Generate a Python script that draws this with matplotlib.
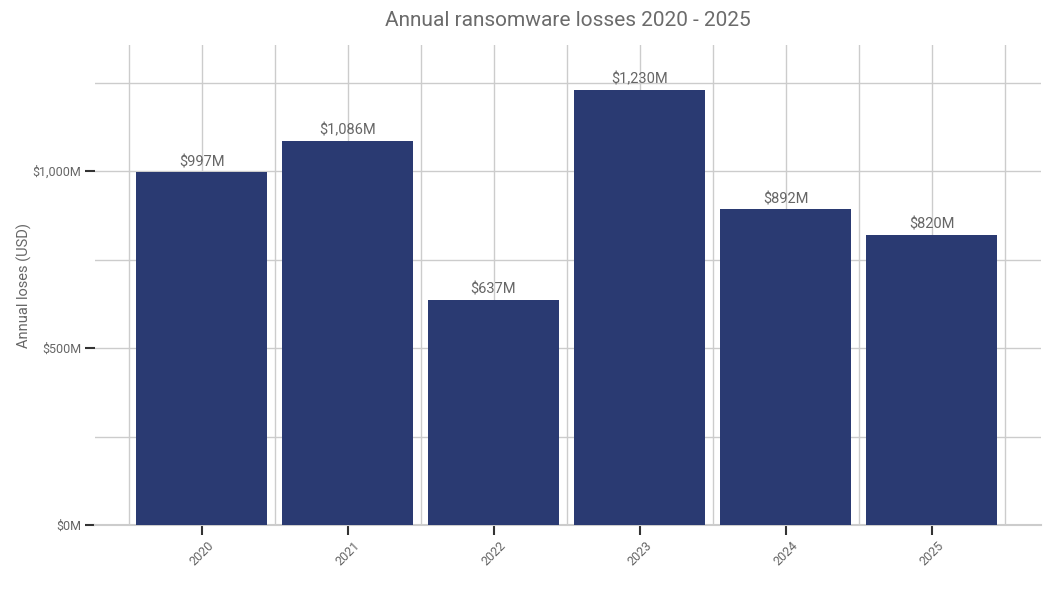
import matplotlib
matplotlib.use("Agg")
import matplotlib.pyplot as plt
from matplotlib.ticker import FuncFormatter, MultipleLocator, FixedLocator

years = ["2020", "2021", "2022", "2023", "2024", "2025"]
losses = [997, 1086, 637, 1230, 892, 820]
title = "Annual ransomware losses 2020 - 2025"
ylabel = "Annual loses (USD)"

plt.rcParams['font.family'] = ['Roboto', 'DejaVu Sans']
fig = plt.figure(figsize=(10.55, 6.01), dpi=100)
ax = fig.add_axes([95/1055, 1 - 525/601, (1041-95)/1055, (525-45)/601])

x = list(range(len(years)))
bars = ax.bar(x, losses, width=0.9, color="#2a3a72", zorder=3)
for xi, v in zip(x, losses):
    ax.text(xi, v + 8, f"${v:,}M", ha="center", va="bottom", fontsize=10.5, color="#666666", zorder=4)

ax.set_xlim(-0.73, 5.75)
ax.set_ylim(0, 1356)
ax.set_xticks(x)
ax.set_xticklabels(years, rotation=45, fontsize=9, color="#666666")
ax.xaxis.set_minor_locator(FixedLocator([-0.5 + i for i in range(7)]))
ax.yaxis.set_major_locator(MultipleLocator(500))
ax.yaxis.set_minor_locator(MultipleLocator(250))
ax.yaxis.set_major_formatter(FuncFormatter(lambda v, p: f"${int(v):,}M"))
ax.tick_params(axis="y", labelsize=9, labelcolor="#666666", length=7, width=1.5, color="#333333", pad=3)
ax.tick_params(axis="x", length=7, width=1.5, color="#333333", pad=3)
ax.tick_params(which="minor", length=0)
ax.grid(True, which="both", color="#cccccc", linewidth=1, zorder=0)
for s in ["top", "right", "left"]:
    ax.spines[s].set_visible(False)
ax.spines["bottom"].set_color("#cccccc")
ax.spines["bottom"].set_linewidth(1.5)
ax.set_ylabel(ylabel, fontsize=10.5, color="#666666", labelpad=0)
fig.text(568/1055, 1 - 21/601, title, ha="center", va="center", fontsize=15, color="#6b6b6b")
fig.savefig("out.png", dpi=100)
